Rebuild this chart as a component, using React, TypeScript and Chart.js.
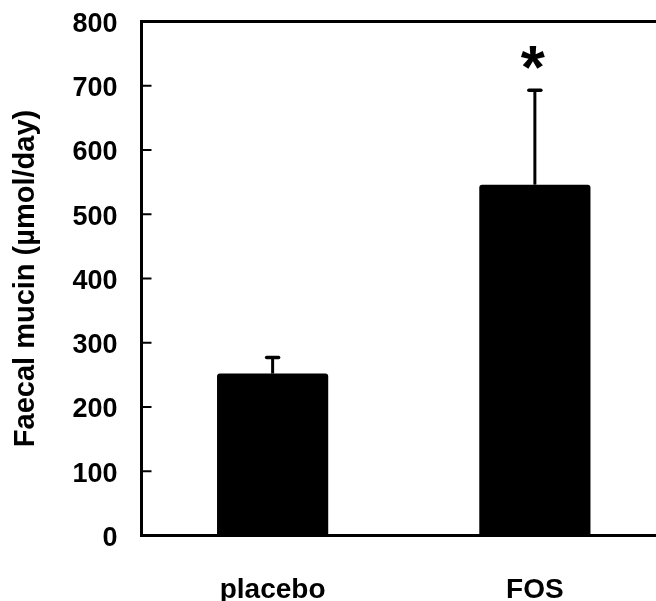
import React, { useEffect, useRef } from 'react';
import { Chart, registerables } from 'chart.js';

Chart.register(...registerables);

// Faecal mucin excretion per group, mean with upper SEM whisker
const categories = ['placebo', 'FOS'];
const mucinValues = [252, 546];
const mucinSem = [25, 147];
const significance = ['', '*'];
const yTickValues = [0, 100, 200, 300, 400, 500, 600, 700, 800];

const FONT = '"Liberation Sans", Arial, Helvetica, sans-serif';

const CANVAS_W = 666;
const CANVAS_H = 601;
const Y_AXIS_W = 141.5;
const CHART_BOTTOM = 535.5;

const framePlugin = {
  id: 'frameAndErrors',
  afterDatasetsDraw(chart: any) {
    const { ctx, chartArea: a, scales } = chart;
    const y = scales.y;
    const meta = chart.getDatasetMeta(0);
    ctx.save();
    ctx.strokeStyle = '#000';
    ctx.fillStyle = '#000';

    // upward error whiskers with caps, plus significance marks
    meta.data.forEach((bar: any, i: number) => {
      const x = bar.x;
      const yTop = y.getPixelForValue(mucinValues[i]);
      const yErr = y.getPixelForValue(mucinValues[i] + mucinSem[i]);
      ctx.lineCap = 'butt';
      ctx.lineWidth = 3;
      ctx.beginPath();
      ctx.moveTo(x, yTop);
      ctx.lineTo(x, yErr);
      ctx.stroke();
      ctx.lineCap = 'round';
      ctx.lineWidth = 3.5;
      ctx.beginPath();
      ctx.moveTo(x - 6, yErr);
      ctx.lineTo(x + 6, yErr);
      ctx.stroke();

      if (significance[i]) {
        ctx.font = `bold 62px ${FONT}`;
        ctx.textAlign = 'center';
        ctx.textBaseline = 'alphabetic';
        const m = ctx.measureText(significance[i]);
        const centerY = yErr - 33;
        const baseline = centerY + (m.actualBoundingBoxAscent - m.actualBoundingBoxDescent) / 2;
        ctx.fillText(significance[i], x - 2, baseline);
      }
    });

    // box frame around the plot
    ctx.lineCap = 'butt';
    ctx.lineWidth = 3;
    ctx.strokeRect(a.left, a.top, a.right - a.left, a.bottom - a.top);

    // inward tick marks on the value axis
    ctx.lineWidth = 2;
    y.ticks.forEach((_t: any, i: number) => {
      const py = y.getPixelForTick(i);
      ctx.beginPath();
      ctx.moveTo(a.left, py);
      ctx.lineTo(a.left + 10, py);
      ctx.stroke();
    });
    ctx.restore();
  },
};

export default function App() {
  const ref = useRef<HTMLCanvasElement>(null);

  useEffect(() => {
    const canvas = ref.current;
    if (!canvas) return;
    const chart = new Chart(canvas, {
      type: 'bar',
      data: {
        labels: categories,
        datasets: [
          {
            data: mucinValues,
            backgroundColor: '#000',
            borderWidth: 0,
            borderRadius: 3,
            borderSkipped: 'start',
            barPercentage: 0.424,
            categoryPercentage: 1,
          },
        ],
      },
      options: {
        responsive: false,
        animation: false,
        layout: { padding: { top: 21.5, right: 0, bottom: 0, left: 0 } },
        plugins: {
          legend: { display: false },
          tooltip: { enabled: false },
        },
        scales: {
          x: {
            grid: { display: false, drawTicks: false },
            border: { display: false },
            ticks: {
              color: '#000',
              padding: 38,
              maxRotation: 0,
              font: { family: FONT, size: 28, weight: 'bold' },
            },
            afterFit: (s: any) => {
              s.height = CANVAS_H - CHART_BOTTOM;
              s.paddingLeft = 0;
              s.paddingRight = 0;
            },
          },
          y: {
            min: 0,
            max: 800,
            grid: { display: false, drawTicks: false },
            border: { display: false },
            afterBuildTicks: (s: any) => {
              s.ticks = yTickValues.map((v) => ({ value: v }));
            },
            ticks: {
              color: '#000',
              padding: 24,
              labelOffset: 3,
              font: { family: FONT, size: 27, weight: 'bold' },
            },
            title: {
              display: true,
              text: 'Faecal mucin (µmol/day)',
              color: '#000',
              padding: { top: 9, bottom: 0 },
              font: { family: FONT, size: 29, weight: 'bold' },
            },
            afterFit: (s: any) => {
              s.width = Y_AXIS_W;
              s.paddingTop = 0;
              s.paddingBottom = 0;
            },
          },
        },
      },
      plugins: [framePlugin],
    });
    return () => chart.destroy();
  }, []);

  return (
    <div
      style={{
        position: 'fixed',
        left: 0,
        top: 0,
        width: 656,
        height: 601,
        overflow: 'hidden',
        background: '#fff',
      }}
    >
      <canvas ref={ref} width={CANVAS_W} height={CANVAS_H} style={{ display: 'block' }} />
    </div>
  );
}
